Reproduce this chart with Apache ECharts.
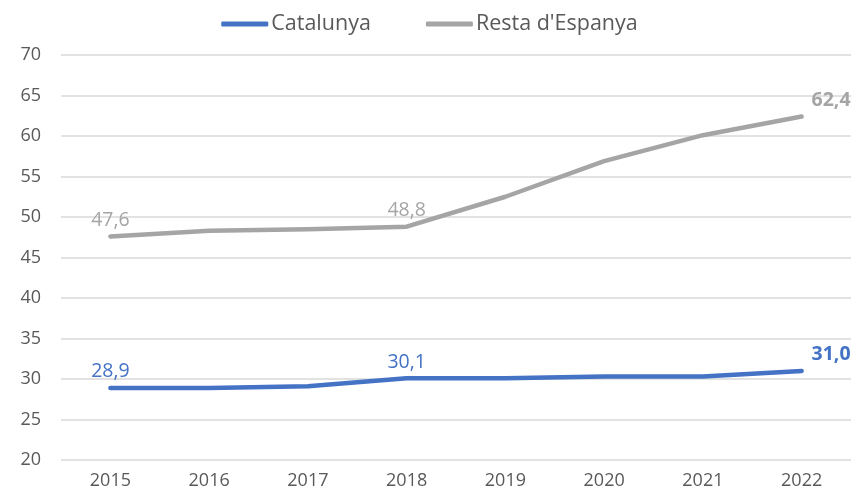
<!DOCTYPE html>
<html lang="ca">
<head>
    <meta charset="UTF-8">
    <title>Catalunya vs Resta d'Espanya</title>
    <script src="https://cdn.jsdelivr.net/npm/echarts@6/dist/echarts.min.js"></script>
    <style>
        html, body { margin: 0; padding: 0; background: #fff; }
        #main { width: 859px; height: 497px; }
    </style>
</head>
<body>
<div id="main"></div>
<script type="text/javascript">
    var years = ['2015', '2016', '2017', '2018', '2019', '2020', '2021', '2022'];
    var catalunya = [28.9, 28.9, 29.1, 30.1, 30.1, 30.3, 30.3, 31.0];
    var restaEspanya = [47.6, 48.3, 48.5, 48.8, 52.5, 56.9, 60.1, 62.4];
    var yTicks = [20, 70, 5]; // min, max, pas

    var FONT = '"Open Sans", Lato, sans-serif';

    function fmt(v) {
        return v.toFixed(1).replace('.', ',');
    }

    // etiquetes: 2015 i 2018 normals, 2022 en negreta
    function withLabels(values, color) {
        return values.map(function (v, i) {
            var item = {value: v};
            if (i === 0 || i === 3) {
                item.label = {show: true, position: 'top', distance: 6, color: color, fontWeight: 'normal'};
            } else if (i === values.length - 1) {
                item.label = {show: true, position: [10, -26], color: color, fontWeight: 'bold'};
            }
            return item;
        });
    }

    var myChart = echarts.init(document.getElementById('main'));
    var option = {
        animation: false,
        textStyle: {fontFamily: FONT},
        legend: {
            top: 8,
            left: 'center',
            itemWidth: 47,
            itemHeight: 5,
            itemGap: 55,
            icon: 'roundRect',
            textStyle: {fontSize: 21.5, color: '#595959', fontFamily: FONT, padding: [0, 0, 0, -2]},
            data: ['Catalunya', "Resta d'Espanya"]
        },
        grid: {left: 61, right: 8, top: 55, bottom: 37, containLabel: false},
        xAxis: {
            type: 'category',
            data: years,
            boundaryGap: true,
            axisLine: {show: false},
            axisTick: {show: false},
            axisLabel: {fontSize: 18, color: '#595959', margin: 12}
        },
        yAxis: {
            type: 'value',
            min: yTicks[0],
            max: yTicks[1],
            interval: yTicks[2],
            axisLine: {show: false},
            axisTick: {show: false},
            axisLabel: {fontSize: 18, color: '#595959', margin: 20},
            splitLine: {lineStyle: {color: '#d9d9d9', width: 1.5}}
        },
        series: [
            {
                name: 'Catalunya',
                type: 'line',
                data: withLabels(catalunya, '#4472C4'),
                symbol: 'circle',
                symbolSize: 0.1,
                showSymbol: true,
                color: '#4472C4',
                lineStyle: {width: 4.5, cap: 'round', join: 'round'},
                label: {fontSize: 19.5, fontFamily: FONT, formatter: function (p) { return fmt(p.value); }}
            },
            {
                name: "Resta d'Espanya",
                type: 'line',
                data: withLabels(restaEspanya, '#A5A5A5'),
                symbol: 'circle',
                symbolSize: 0.1,
                showSymbol: true,
                color: '#A5A5A5',
                lineStyle: {width: 4.5, cap: 'round', join: 'round'},
                label: {fontSize: 19.5, fontFamily: FONT, formatter: function (p) { return fmt(p.value); }}
            }
        ]
    };
    myChart.setOption(option);
</script>
</body>
</html>
